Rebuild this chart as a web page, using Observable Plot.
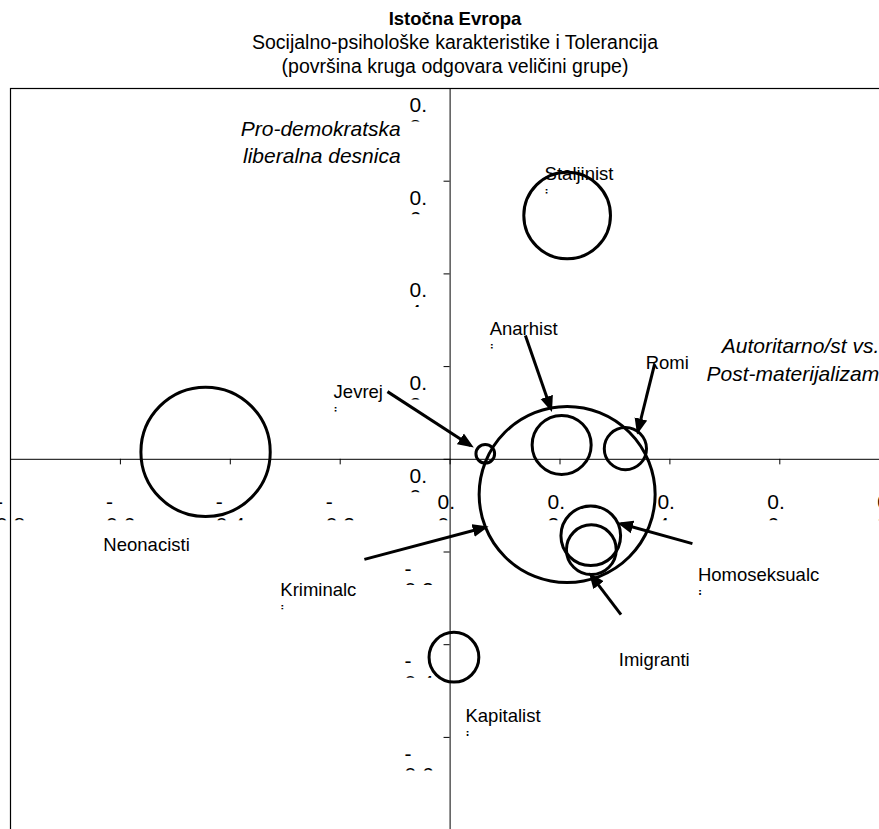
<!DOCTYPE html>
<html>
<head>
<meta charset="utf-8">
<script src="https://cdn.jsdelivr.net/npm/d3@7"></script>
<script src="https://cdn.jsdelivr.net/npm/@observablehq/plot@0.6"></script>
<style>
html, body { margin: 0; padding: 0; overflow: hidden; background: #fff; width: 879px; height: 829px; }
#title { position: absolute; left: 0; top: 0; width: 879px; box-sizing: border-box; padding-left: 31px; text-align: center; font-family: Arial, "Liberation Sans", sans-serif; color: #000; padding-top: 7.2px; overflow: hidden; }
#title div { height: 24px; line-height: 24px; font-size: 19.5px; white-space: nowrap; }
#title .t1 { font-weight: bold; font-size: 18.5px; height: 23px; line-height: 23px; }
#chart { position: absolute; left: 0; top: 80px; width: 879px; height: 749px; overflow: hidden; }
#chart svg { max-width: none !important; }
</style>
</head>
<body>
<div id="title">
  <div class="t1">Istočna Evropa</div>
  <div>Socijalno-psihološke karakteristike i Tolerancija</div>
  <div>(površina kruga odgovara veličini grupe)</div>
</div>
<div id="chart"></div>
<script>
// ---- data ----
const xTicks = [-0.8, -0.6, -0.4, -0.2, 0, 0.2, 0.4, 0.6, 0.8];
const yTicks = [0.8, 0.6, 0.4, 0.2, 0, -0.2, -0.4, -0.6, -0.8];

const groups     = ["Staljinisti", "Neonacisti", "Kriminalci", "Anarhisti", "Romi", "Jevreji", "Homoseksualci", "Imigranti", "Kapitalisti"];
const xValues    = [0.213, -0.445, 0.213, 0.203, 0.319, 0.064, 0.256, 0.257, 0.007];
const yValues    = [0.526, 0.016, -0.076, 0.031, 0.023, 0.012, -0.165, -0.195, -0.427];
const groupSizes = [9.7, 21.6, 40, 4.5, 2.3, 0.45, 4.6, 3.2, 3.2];

const labelLine1 = ["Staljinist", "Neonacisti", "Kriminalc", "Anarhist", "Romi", "Jevrej", "Homoseksualc", "Imigranti", "Kapitalist"];
const labelLine2 = ["i", "", "i", "i", "", "i", "i", "", "i"];
const labelX     = [0.172, -0.631, -0.309, 0.072, 0.356, -0.212, 0.451, 0.307, 0.028];
const labelY     = [0.603, -0.197, -0.294, 0.269, 0.195, 0.133, -0.263, -0.447, -0.567];

const arrowGroups = ["Jevreji", "Anarhisti", "Romi", "Kriminalci", "Homoseksualci", "Imigranti"];
const arrowX1 = [-0.114, 0.137, 0.372, -0.156, 0.441, 0.311];
const arrowY1 = [0.146, 0.267, 0.205, -0.216, -0.182, -0.335];
const arrowX2 = [0.037, 0.183, 0.342, 0.063, 0.311, 0.257];
const arrowY2 = [0.030, 0.110, 0.062, -0.147, -0.139, -0.251];

const axisTitles = ["Pro-demokratska\nliberalna desnica", "Autoritarno/st vs.\nPost-materijalizam"];
const axisTitleX = [-0.090, 0.781];
const axisTitleY = [0.639, 0.170];

// ---- tables built from the arrays ----
const bubbles = groups.map((g, i) => ({group: g, x: xValues[i], y: yValues[i], size: groupSizes[i]}));
const labels = groups.map((g, i) => ({text1: labelLine1[i], text2: labelLine2[i], x: labelX[i], y: labelY[i]}));
const labels2 = labels.filter(d => d.text2);
const arrows = arrowGroups.map((g, i) => ({group: g, x1: arrowX1[i], y1: arrowY1[i], x2: arrowX2[i], y2: arrowY2[i]}));
const titles = axisTitles.map((t, i) => ({text: t, x: axisTitleX[i], y: axisTitleY[i]}));

function tickLines(v) {
  const s = v.toFixed(1);
  return s[0] === "-" ? ["-", s.slice(1)] : [s.slice(0, 2), s.slice(2)];
}
const xTickData = xTicks.map(v => ({v, l1: tickLines(v)[0], l2: tickLines(v)[1], neg: v < 0}));
const yTickData = yTicks.map(v => ({v, l1: tickLines(v)[0], l2: tickLines(v)[1], neg: v < 0}));

const FONT = "Arial, 'Liberation Sans', sans-serif";

const plot = Plot.plot({
  width: 900,
  height: 760,
  marginLeft: 10,
  marginRight: 10.8,
  marginTop: 8,
  marginBottom: 10.4,
  x: {domain: [-0.8, 0.8], axis: null},
  y: {domain: [-0.8, 0.8], axis: null},
  r: {type: "sqrt", domain: [0, 40], range: [0, 88]},
  style: {fontFamily: FONT, background: "white", color: "black", maxWidth: "none"},
  marks: [
    Plot.frame({stroke: "black", strokeWidth: 1.2}),
    Plot.ruleY([0], {stroke: "black", strokeWidth: 1}),
    Plot.ruleX([0], {stroke: "black", strokeWidth: 1}),
    Plot.ruleX(xTicks, {x: d => d, y1: 0, y2: -0.012, stroke: "black", strokeWidth: 1}),
    Plot.ruleY(yTicks, {y: d => d, x1: -0.011, x2: 0, stroke: "black", strokeWidth: 1}),
    // x tick labels (wrapped in two lines, second line cut)
    Plot.text(xTickData, {x: "v", y: () => 0, text: "l1", textAnchor: "start", lineAnchor: "bottom", fontSize: 21, fill: "black",
      dy: 50, ariaLabel: () => "xlab1"}),
    Plot.text(xTickData, {x: "v", y: () => 0, text: "l2", textAnchor: "start", lineAnchor: "bottom", fontSize: 21, fill: "black",
      dy: 73, ariaLabel: () => "xlab2"}),
    // y tick labels
    Plot.text(yTickData, {x: () => 0, y: "v", text: "l1", textAnchor: "start", lineAnchor: "bottom", fontSize: 21, fill: "black",
      dy: 23.5, ariaLabel: () => "ylab1"}),
    Plot.text(yTickData, {x: () => 0, y: "v", text: "l2", textAnchor: "start", lineAnchor: "bottom", fontSize: 21, fill: "black",
      dy: 45, ariaLabel: () => "ylab2"}),
    // bubbles (area ~ group size)
    Plot.dot(bubbles, {x: "x", y: "y", r: "size", stroke: "black", strokeWidth: 3, fill: "none"}),
    // arrows
    Plot.link(arrows, {x1: "x1", y1: "y1", x2: "x2", y2: "y2", stroke: "black", strokeWidth: 3, ariaLabel: () => "arrow"}),
    // labels
    Plot.text(labels, {x: "x", y: "y", text: "text1", textAnchor: "start", lineAnchor: "bottom", fontSize: 18.5, fill: "black"}),
    Plot.text(labels2, {x: "x", y: "y", text: "text2", textAnchor: "start", lineAnchor: "bottom", fontSize: 18.5, fill: "black", dy: 22, ariaLabel: () => "lab2"}),
    // axis titles
    Plot.text(titles, {x: "x", y: "y", text: "text", textAnchor: "end", lineAnchor: "bottom", lineHeight: 1.3, fontSize: 21, fontStyle: "italic", fill: "black"})
  ]
});
plot.style.maxWidth = "none";

// ---- post-processing ----
const svg = d3.select(plot);
const X = plot.scale("x").apply, Y = plot.scale("y").apply;
const defs = svg.insert("defs", ":first-child");

function shiftTexts(name, data, fn) {
  svg.selectAll(`text[aria-label="${name}"]`).each(function (_, i) {
    const d = data[i];
    const t = d3.select(this);
    const tr = t.attr("transform");
    const m = tr && /translate\(\s*([-\d.e]+)[ ,]+([-\d.e]+)\s*\)/.exec(tr);
    if (m) t.attr("transform", `translate(${+m[1] + fn(d)},${m[2]})`);
    else t.attr("x", (+t.attr("x") || 0) + fn(d));
  });
}
shiftTexts("xlab1", xTickData, d => d.neg ? -14.5 : -12.5);
shiftTexts("xlab2", xTickData, d => d.neg ? -14.5 : -12.5);
shiftTexts("ylab1", yTickData, d => d.neg ? -45.6 : -40.6);
shiftTexts("ylab2", yTickData, d => d.neg ? -45.6 : -40.6);

function clipGroup(name, id) {
  const node = svg.select(`text[aria-label="${name}"]`).node();
  if (!node) return;
  const g = node.parentNode;
  const wrap = document.createElementNS("http://www.w3.org/2000/svg", "g");
  g.parentNode.insertBefore(wrap, g);
  wrap.appendChild(g);
  wrap.setAttribute("clip-path", `url(#${id})`);
}

const y0 = Y(0);
defs.append("clipPath").attr("id", "clipx2").append("rect")
  .attr("x", 0).attr("width", 900).attr("y", y0 + 52).attr("height", 9.5);
clipGroup("xlab2", "clipx2");

const cy = defs.append("clipPath").attr("id", "clipy2");
yTicks.forEach(v => cy.append("rect").attr("x", X(0) - 60).attr("width", 58).attr("y", Y(v) + 26).attr("height", 7.5));
clipGroup("ylab2", "clipy2");

const cl = defs.append("clipPath").attr("id", "clipl2");
labels2.forEach(d => cl.append("rect").attr("x", X(d.x) - 3).attr("width", 14).attr("y", Y(d.y) + 5).attr("height", 9.3));
clipGroup("lab2", "clipl2");

// filled arrowheads
defs.append("marker").attr("id", "ahead")
  .attr("viewBox", "0 -7 16 14").attr("refX", 12).attr("refY", 0)
  .attr("markerWidth", 16).attr("markerHeight", 14)
  .attr("markerUnits", "userSpaceOnUse").attr("orient", "auto")
  .append("path").attr("d", "M0,-6.5L16,0L0,6.5Z").attr("fill", "black").attr("stroke", "none");
svg.selectAll('[aria-label="arrow"]').attr("marker-end", "url(#ahead)");

document.getElementById("chart").appendChild(plot);
</script>
</body>
</html>
